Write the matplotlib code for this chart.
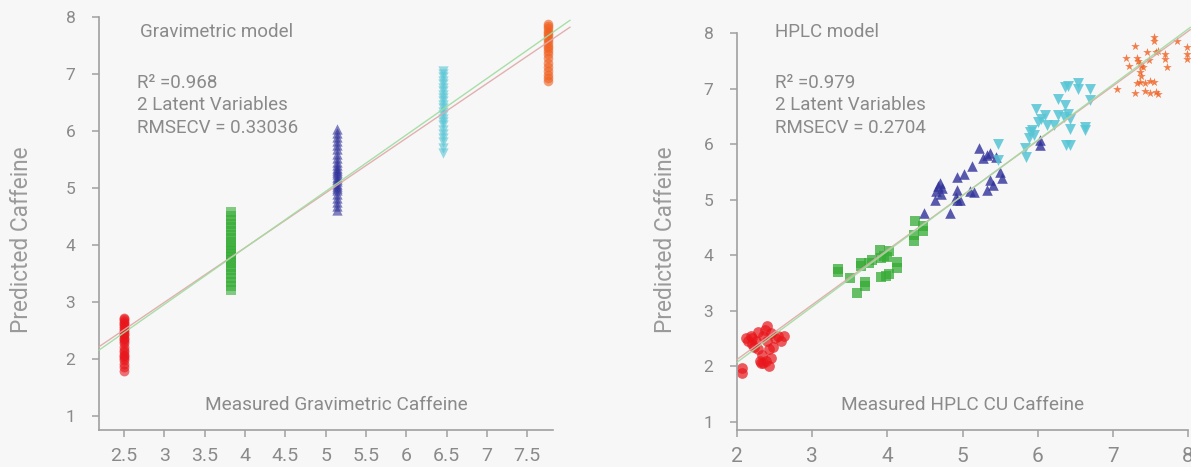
import matplotlib
matplotlib.use("Agg")
import matplotlib.pyplot as plt
import numpy as np

plt.rcParams['font.family'] = ['Roboto', 'DejaVu Sans']

# ---------------- data: gravimetric model (left) ----------------
grav_x = [2.50, 3.83, 5.14, 6.45, 7.76]
grav_red_y = [1.80, 1.86, 1.92, 1.98, 2.02, 2.05, 2.08, 2.12, 2.16, 2.22, 2.28,
              2.32, 2.35, 2.38, 2.42, 2.45, 2.48, 2.52, 2.55, 2.58, 2.61, 2.64,
              2.67, 2.70, 2.72]
grav_green_y = [3.22, 3.28, 3.35, 3.42, 3.50, 3.56, 3.62, 3.68, 3.74, 3.80, 3.85,
                3.90, 3.95, 4.00, 4.05, 4.12, 4.18, 4.25, 4.32, 4.38, 4.45, 4.52,
                4.58]
grav_blue_y = [4.62, 4.68, 4.75, 4.82, 4.90, 4.96, 5.00, 5.04, 5.08, 5.12, 5.16,
               5.20, 5.24, 5.28, 5.32, 5.36, 5.40, 5.46, 5.52, 5.60, 5.68, 5.75,
               5.82, 5.90, 5.97, 6.03]
grav_cyan_y = [5.62, 5.70, 5.80, 5.88, 5.95, 6.02, 6.10, 6.16, 6.22, 6.28, 6.34,
               6.40, 6.46, 6.52, 6.58, 6.64, 6.70, 6.76, 6.82, 6.88, 6.94, 7.00,
               7.05]
grav_orange_y = [6.88, 6.93, 6.98, 7.05, 7.12, 7.20, 7.28, 7.35, 7.40, 7.45, 7.50,
                 7.55, 7.60, 7.64, 7.68, 7.72, 7.76, 7.80, 7.84, 7.88]

# fitted lines (slope, intercept)
grav_fit_green = (0.990, -0.008)
grav_fit_red = (0.959, 0.120)

# ---------------- data: HPLC model (right) ----------------
hplc_red_x = [2.06, 2.06, 2.12, 2.15, 2.18, 2.20, 2.22, 2.25, 2.28, 2.30, 2.32, 2.33,
              2.35, 2.37, 2.38, 2.40, 2.40, 2.42, 2.42, 2.45, 2.45, 2.48, 2.50, 2.55,
              2.58, 2.62, 2.28, 2.20, 2.35]
hplc_red_y = [1.88, 1.97, 2.50, 2.45, 2.55, 2.40, 2.35, 2.45, 2.30, 2.10, 2.05, 2.20,
              2.55, 2.65, 2.10, 2.72, 2.45, 2.30, 2.00, 2.60, 2.15, 2.35, 2.50, 2.55,
              2.45, 2.55, 2.62, 2.50, 2.05]

hplc_green_x = [3.34, 3.34, 3.50, 3.59, 3.65, 3.65, 3.70, 3.70, 3.76, 3.80, 3.90,
                3.92, 3.95, 4.00, 4.02, 3.92, 3.98, 4.02, 4.13, 4.13, 4.36, 4.36,
                4.37, 4.48, 4.48]
hplc_green_y = [3.75, 3.69, 3.58, 3.31, 3.86, 3.80, 3.52, 3.45, 3.86, 3.92, 4.10,
                3.95, 3.98, 3.96, 4.08, 3.60, 3.63, 3.66, 3.88, 3.76, 4.37, 4.25,
                4.62, 4.52, 4.44]

hplc_blue_x = [4.49, 4.63, 4.65, 4.67, 4.70, 4.71, 4.73, 4.84, 4.93, 4.93, 4.93,
               5.02, 5.12, 5.15, 5.22, 5.27, 5.32, 5.37, 5.45, 5.50, 5.52, 5.37,
               5.32, 5.41, 5.10, 4.97, 4.91, 6.03, 6.03]
hplc_blue_y = [4.75, 5.00, 5.15, 5.25, 5.30, 5.10, 5.20, 4.75, 5.40, 5.17, 5.00,
               5.46, 5.61, 5.13, 5.93, 5.75, 5.80, 5.83, 5.77, 5.50, 5.38, 5.35,
               5.18, 5.27, 5.16, 5.00, 5.05, 5.99, 6.08]

hplc_cyan_x = [5.47, 5.47, 5.85, 5.83, 5.88, 5.93, 5.98, 6.00, 6.05, 6.10, 6.12,
               5.95, 5.90, 6.22, 6.27, 6.37, 6.40, 6.40, 6.43, 6.43, 6.38, 6.43,
               6.53, 6.53, 6.63, 6.63, 6.70, 6.70, 6.37, 6.35, 6.27]
hplc_cyan_y = [6.00, 5.71, 5.77, 5.93, 6.10, 6.25, 6.64, 6.40, 6.46, 6.52, 6.34,
               6.16, 6.22, 6.35, 6.52, 6.70, 7.05, 6.55, 6.46, 5.99, 5.99, 6.28,
               7.10, 6.99, 6.31, 6.25, 6.99, 6.79, 7.02, 6.49, 6.82]

hplc_orange_x = [7.05, 7.17, 7.22, 7.30, 7.32, 7.34, 7.36, 7.38, 7.40, 7.36, 7.38,
                 7.32, 7.36, 7.43, 7.50, 7.55, 7.30, 7.43, 7.50, 7.57, 7.60, 7.45,
                 7.48, 7.55, 7.55, 7.57, 7.60, 7.70, 7.70, 7.72, 7.86, 7.99, 7.99,
                 7.99]
hplc_orange_y = [7.00, 7.55, 7.41, 7.76, 7.55, 7.50, 7.45, 7.41, 7.38, 7.30, 7.22,
                 7.10, 7.12, 7.10, 7.14, 7.12, 6.92, 6.95, 6.92, 6.94, 6.90, 7.65,
                 7.51, 7.93, 7.85, 7.65, 7.68, 7.62, 7.53, 7.39, 7.85, 7.74, 7.62,
                 7.53]

hplc_fit_green = (1.000, 0.070)
hplc_fit_red = (0.985, 0.150)

# ---------------- styling ----------------
BG = '#f7f7f7'
AXC = '#a0a0a0'
TXC = '#8a8a8a'
C_RED = '#e8161b'
C_GREEN = '#35ac35'
C_BLUE = '#30329a'
C_CYAN = '#56c5d5'
C_ORANGE = '#f06020'
L_GREEN = '#9fdc9f'
L_RED = '#e0a8a8'

W, H = 1191, 467
fig = plt.figure(figsize=(W / 100, H / 100), dpi=100, facecolor=BG)


def px_axes(l, r, t, b):
    return fig.add_axes([l / W, (H - b) / H, (r - l) / W, (b - t) / H])


def style(ax):
    ax.set_facecolor(BG)
    for s in ('top', 'right'):
        ax.spines[s].set_visible(False)
    for s in ('left', 'bottom'):
        ax.spines[s].set_color(AXC)
        ax.spines[s].set_linewidth(1.2)
    ax.tick_params(axis='both', direction='out', length=5, width=1.1,
                   color=AXC, labelcolor=TXC)
    ax.tick_params(axis='y', labelsize=12.5, pad=12)
    ax.tick_params(axis='x', labelsize=14, pad=7)


def fitline(ax, fit, x0, x1, color):
    xs = np.array([x0, x1])
    ax.plot(xs, fit[0] * xs + fit[1], color=color, lw=1.0, alpha=0.9,
            clip_on=False, zorder=3)


# ---------------- left panel ----------------
ax1 = px_axes(99, 553, 17, 430)
style(ax1)
ax1.set_xlim(2.19, 7.82)
ax1.set_ylim(0.76, 8.0)
ax1.set_xticks([2.5, 3, 3.5, 4, 4.5, 5, 5.5, 6, 6.5, 7, 7.5])
ax1.set_xticklabels(['2.5', '3', '3.5', '4', '4.5', '5', '5.5', '6', '6.5', '7', '7.5'])
ax1.set_yticks([1, 2, 3, 4, 5, 6, 7, 8])

groups = [(grav_red_y, C_RED, 'o', 50), (grav_green_y, C_GREEN, 's', 42),
          (grav_blue_y, C_BLUE, '^', 55), (grav_cyan_y, C_CYAN, 'v', 55),
          (grav_orange_y, C_ORANGE, 'o', 48)]
for gx, (gy, c, m, s) in zip(grav_x, groups):
    ax1.scatter([gx] * len(gy), gy, s=s, marker=m, color=c, alpha=0.6,
                linewidths=0, zorder=2)
fitline(ax1, grav_fit_red, 2.19, 8.03, L_RED)
fitline(ax1, grav_fit_green, 2.19, 8.03, L_GREEN)

# ---------------- right panel ----------------
ax2 = px_axes(737, 1188, 33, 430)
style(ax2)
ax2.set_xlim(2, 8)
ax2.set_ylim(0.85, 8.0)
ax2.set_xticks([2, 3, 4, 5, 6, 7, 8])
ax2.set_yticks([1, 2, 3, 4, 5, 6, 7, 8])
ax2.tick_params(axis='x', labelsize=15, pad=7)

ax2.scatter(hplc_red_x, hplc_red_y, s=60, marker='o', color=C_RED, alpha=0.7,
            linewidths=0, zorder=2, clip_on=False)
ax2.scatter(hplc_green_x, hplc_green_y, s=48, marker='s', color=C_GREEN, alpha=0.75,
            linewidths=0, zorder=2)
ax2.scatter(hplc_blue_x, hplc_blue_y, s=58, marker='^', color=C_BLUE, alpha=0.8,
            linewidths=0, zorder=2)
ax2.scatter(hplc_cyan_x, hplc_cyan_y, s=62, marker='v', color=C_CYAN, alpha=0.85,
            linewidths=0, zorder=2)
ax2.scatter(hplc_orange_x, hplc_orange_y, s=42, marker='*', color=C_ORANGE, alpha=0.8,
            linewidths=0, zorder=2, clip_on=False)
fitline(ax2, hplc_fit_red, 2.0, 8.03, L_RED)
fitline(ax2, hplc_fit_green, 2.0, 8.03, L_GREEN)


# ---------------- texts ----------------
def ftext(x, y, s, size, ha='left', rot=0, color=TXC):
    fig.text(x / W, 1 - y / H, s, fontsize=size, color=color, ha=ha,
             va='center', rotation=rot)


ftext(140, 32, 'Gravimetric model', 13.5)
ftext(137, 83, 'R² =0.968', 13.5)
ftext(137, 105, '2 Latent Variables', 13.5)
ftext(137, 128, 'RMSECV = 0.33036', 13.5)
ftext(336, 405, 'Measured Gravimetric Caffeine', 13.7, ha='center')
ftext(22, 240, 'Predicted Caffeine', 16.3, ha='center', rot=90, color='#9a9a9a')

ftext(775, 32, 'HPLC model', 13.5)
ftext(775, 83, 'R² =0.979', 13.5)
ftext(775, 105, '2 Latent Variables', 13.5)
ftext(775, 128, 'RMSECV = 0.2704', 13.5)
ftext(963, 405, 'Measured HPLC CU Caffeine', 13.7, ha='center')
ftext(666, 240, 'Predicted Caffeine', 16.3, ha='center', rot=90, color='#9a9a9a')

fig.savefig('out.png', dpi=100, facecolor=BG)
